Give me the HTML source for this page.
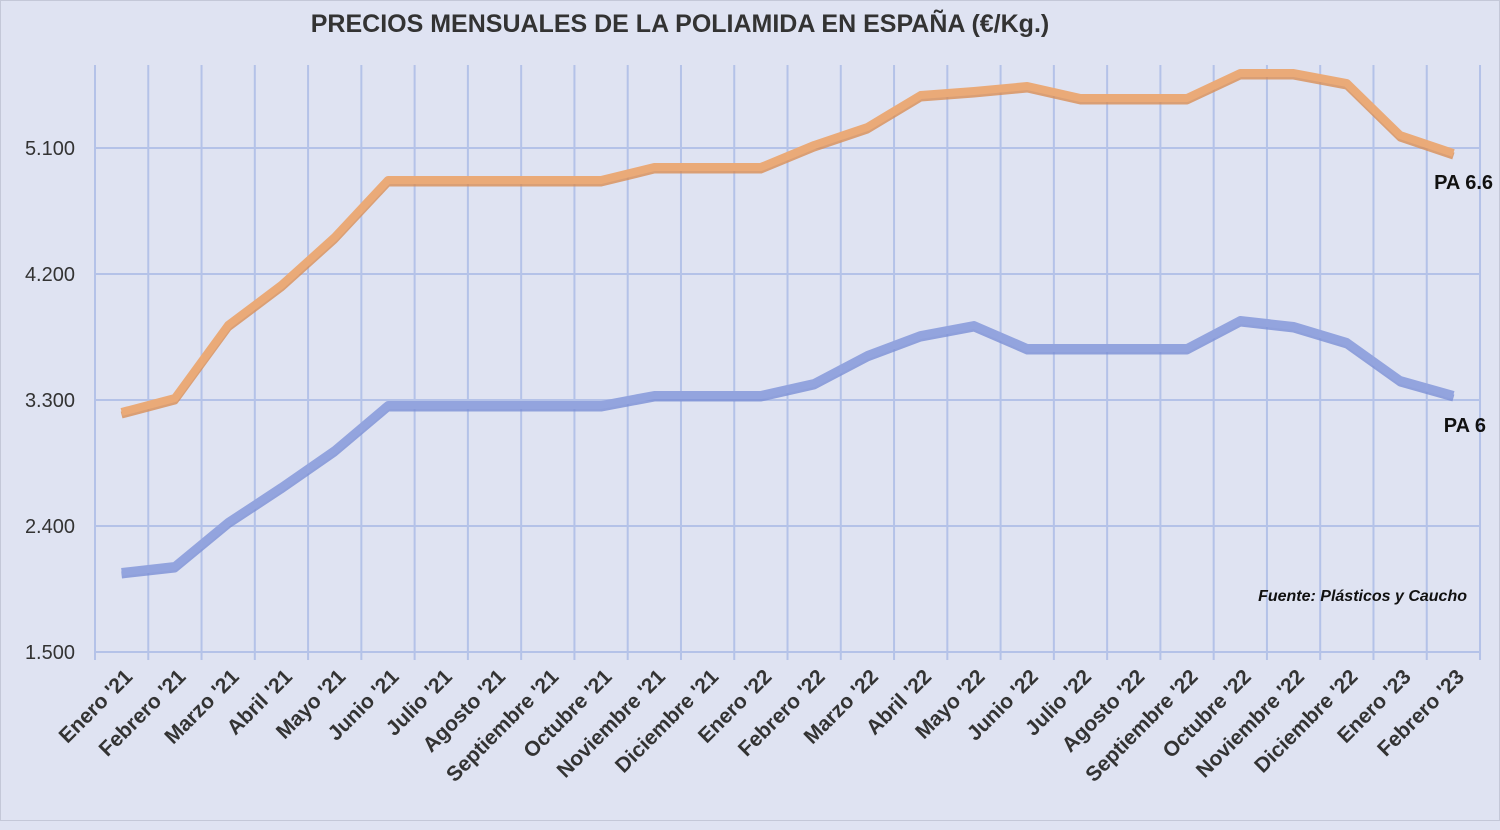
<!DOCTYPE html><html><head><style>body{margin:0;background:#dfe3f2}</style></head><body>
<svg width="1500" height="825" xmlns="http://www.w3.org/2000/svg" font-family="Liberation Sans, sans-serif">
<rect width="1500" height="825" fill="#dfe3f2"/>
<rect x="0.5" y="0.5" width="1499" height="820" fill="none" stroke="#c4c8d8"/>
<text x="680" y="32" text-anchor="middle" font-size="25" font-weight="bold" fill="#333">PRECIOS MENSUALES DE LA POLIAMIDA EN ESPAÑA (€/Kg.)</text>
<g stroke="#b4c2e8" stroke-width="2" id="g"></g>
<g font-size="20" fill="#333" text-anchor="end">
<text x="75" y="155">5.100</text><text x="75" y="281">4.200</text><text x="75" y="407">3.300</text><text x="75" y="533">2.400</text><text x="75" y="659">1.500</text></g>
<g id="lines"></g><g id="lab" font-size="21" font-weight="bold" fill="#333" text-anchor="end"></g>
<text x="1493" y="189" text-anchor="end" font-size="20" font-weight="bold" fill="#111">PA 6.6</text>
<text x="1486" y="432" text-anchor="end" font-size="20" font-weight="bold" fill="#111">PA 6</text>
<text x="1467" y="601" text-anchor="end" font-size="16" font-weight="bold" font-style="italic" fill="#111">Fuente: Plásticos y Caucho</text>
</svg>
<script>
const ns="http://www.w3.org/2000/svg",sp=53.27,x0=95;
function el(p,t,a){const e=document.createElementNS(ns,t);for(const k in a)e.setAttribute(k,a[k]);p.appendChild(e);return e}
const g=document.getElementById('g');
for(const y of [148,274,400,526])el(g,'line',{x1:95,x2:1480,y1:y,y2:y});
for(let i=0;i<=26;i++){const x=x0+sp*i;el(g,'line',{x1:x,x2:x,y1:65,y2:660})}
el(g,'line',{x1:95,x2:1480,y1:652,y2:652});
const a=[412,398,325,285,237,180,180,180,180,180,167,167,167,145,127,95,91,86,98,98,98,73,73,83,135,153];
const b=[572,566,522,487,450,405,405,405,405,405,395,395,395,383,355,335,325,348,348,348,348,320,326,342,380,395];
const L=document.getElementById('lines');
function draw(d,c,sh){const pts=d.map((y,i)=>(x0+sp*(i+.5)).toFixed(1)+','+y).join(' ');
el(L,'polyline',{points:d.map((y,i)=>(x0+sp*(i+.5)).toFixed(1)+','+(y+3)).join(' '),fill:'none',stroke:sh,'stroke-width':7,'stroke-linejoin':'round',opacity:.8});
el(L,'polyline',{points:pts,fill:'none',stroke:c,'stroke-width':8,'stroke-linejoin':'round'});}
draw(a,'#eaaa78','#d88d55');draw(b,'#93a4de','#7b8fd4');
const n=["Enero '21","Febrero '21","Marzo '21","Abril '21","Mayo '21","Junio '21","Julio '21","Agosto '21","Septiembre '21","Octubre '21","Noviembre '21","Diciembre '21","Enero '22","Febrero '22","Marzo '22","Abril '22","Mayo '22","Junio '22","Julio '22","Agosto '22","Septiembre '22","Octubre '22","Noviembre '22","Diciembre '22","Enero '23","Febrero '23"];
const lb=document.getElementById('lab');
n.forEach((t,i)=>{const x=x0+sp*(i+.5)+12,y=678;const e=el(lb,'text',{x:x,y:y,transform:`rotate(-45 ${x} ${y})`});e.textContent=t});
</script></body></html>
